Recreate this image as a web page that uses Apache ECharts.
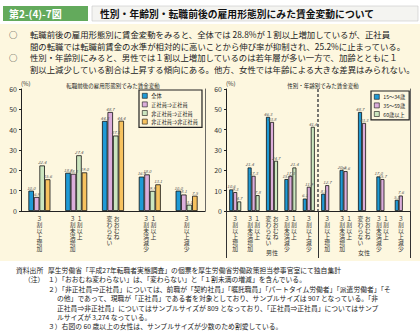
<!DOCTYPE html>
<html><head><meta charset="utf-8">
<script src="https://cdn.jsdelivr.net/npm/echarts@6/dist/echarts.min.js"></script>
<style>html,body{margin:0;padding:0;background:#fff}#c{width:420px;height:335px}</style>
</head><body><div id="c"></div>
<script>
// ---- data ----
const leftCategories = ['3割以上増加','1割以上|3割未満増加','おおむね|変わらない','1割以上|3割未満減少','3割以上減少'];
const leftSeriesNames = ['全体','正社員⇒正社員','非正社員⇒正社員','非正社員⇒非正社員'];
const valAll      = [10.0, 18.8, 44.3, 16.9, 10.0];
const valRegToReg = [6.9, 18.3, 48.7, 18.0, 8.1];
const valNonToReg = [22.4, 27.4, 37.1, 9.9, 3.1];
const valNonToNon = [15.6, 19.0, 44.4, 13.1, 7.5];

const rightGroups = ['男性','女性'];
const rightCategories = ['3割以上増加','1割以上|3割未満増加','おおむね|変わらない','1割以上|3割未満減少','3割以上減少',
                         '3割以上増加','1割以上|3割未満増加','おおむね|変わらない','1割以上|3割未満減少','3割以上減少'];
const rightSeriesNames = ['15～34歳','35～59歳','60歳以上'];
const valAge15to34 = [10.6, 21.4, 46.3, 15.7, 6.1, 8.5, 20.2, 48.7, 17.0, 5.5];
const valAge35to59 = [9.3, 17.3, 43.8, 17.3, 11.9, 12.7, 19.6, 43.3, 15.7, 7.6];
const valAge60plus = [4.7, 7.8, 24.7, 21.4, 41.4, null, null, null, null, null];

const yMin = 0, yMax = 60, yStep = 10;

const headerNo = '第2-(4)-7図';
const headerTitle = '性別・年齢別・転職前後の雇用形態別にみた賃金変動について';
const summaryLines = [
  ['○', '転職前後の雇用形態別に賃金変動をみると、全体では 28.8%が１割以上増加しているが、正社員'],
  ['',  '間の転職では転職前賃金の水準が相対的に高いことから伸び率が抑制され、25.2%に止まっている。'],
  ['○', '性別・年齢別にみると、男性では１割以上増加しているのは若年層が多い一方で、加齢とともに１'],
  ['',  '割以上減少している割合は上昇する傾向にある。他方、女性では年齢による大きな差異はみられない。']
];
const leftTitle = '転職前後の雇用形態別でみた賃金変動';
const rightTitle = '性別・年齢別でみた賃金変動';
const notes = [
  ['資料出所', '厚生労働省「平成27年転職者実態調査」の個票を厚生労働省労働政策担当参事官室にて独自集計', 0],
  ['（注）', '１）「おおむね変わらない」は、「変わらない」と「１割未満の増減」を含んでいる。', 0],
  ['', '２）「非正社員⇒正社員」については、前職が「契約社員」「嘱託職員」「パートタイム労働者」「派遣労働者」「そ', 0],
  ['', 'の他」であって、現職が「正社員」である者を対象としており、サンプルサイズは 907 となっている。「非', 1],
  ['', '正社員⇒非正社員」についてはサンプルサイズが 809 となっており、「正社員⇒正社員」についてはサンプ', 1],
  ['', 'ルサイズが 3,274 なっている。', 1],
  ['', '３）右図の 60 歳以上の女性は、サンプルサイズが少数のため割愛している。', 0]
];

// ---- styling ----
const FONT = '"Noto Sans CJK JP", "Noto Sans", sans-serif';
const colors = ['#1f9ad5', '#dcaedb', '#cbe6bf', '#f7c25f'];

function toFull(s){ return s.replace(/[0-9]/g, d => String.fromCharCode(d.charCodeAt(0) + 0xFEE0)); }
function vertical(label){
  const cols = label.split('|').map(toFull);
  if (cols.length === 1) return cols[0].split('').join('\n');
  const right = cols[0].split(''), left = cols[1].split('');
  const n = Math.max(right.length, left.length);
  const lines = [];
  for (let i = 0; i < n; i++) lines.push((left[i] || '　') + ' ' + (right[i] || '　'));
  return lines.join('\n');
}

const barLabel = {
  show: true, position: 'top', distance: 1, fontSize: 4.3, color: '#555', fontStyle: 'italic', fontFamily: FONT,
  formatter: p => (p.value == null ? '' : Number(p.value).toFixed(1))
};
const catLabel = {
  interval: 0, formatter: vertical, fontSize: 5.8, lineHeight: 6.1, color: '#333', fontFamily: FONT, margin: 4
};
function yAxisFor(idx){
  return {
    gridIndex: idx, type: 'value', min: yMin, max: yMax, interval: yStep, position: 'left',
    name: '(%)', nameLocation: 'end', nameGap: 3,
    nameTextStyle: { fontSize: 6, color: '#333', align: 'left', verticalAlign: 'bottom', fontFamily: FONT },
    axisLine: { show: true, lineStyle: { color: '#222', width: 1 } },
    axisTick: { show: true, length: 2, lineStyle: { color: '#222' } },
    axisLabel: { fontSize: 7, color: '#333', margin: 4, fontFamily: FONT },
    splitLine: { show: false }
  };
}
function frameAxisFor(idx){
  return {
    gridIndex: idx, type: 'value', min: yMin, max: yMax, interval: yStep, position: 'right',
    axisLine: { show: true, lineStyle: { color: '#444', width: 0.8 } },
    axisTick: { show: false }, axisLabel: { show: false }, splitLine: { show: false }
  };
}
function legendFor(names, left, top){
  return {
    data: names, left, top, orient: 'vertical', icon: 'rect',
    itemWidth: 5, itemHeight: 5, itemGap: 3, padding: [3, 4, 3, 3],
    borderColor: '#222', borderWidth: 1.2,
    itemStyle: { borderColor: '#111', borderWidth: 0.6 },
    textStyle: { fontSize: 5.2, color: '#222', fontFamily: FONT, padding: [0, 0, 0, -1] }
  };
}

const leftVals = [valAll, valRegToReg, valNonToReg, valNonToNon];
const rightVals = [valAge15to34, valAge35to59, valAge60plus];

const series = [];
leftSeriesNames.forEach((n, i) => series.push({
  type: 'bar', name: n, xAxisIndex: 0, yAxisIndex: 0, data: leftVals[i],
  barWidth: 5.5, barGap: '0%',
  itemStyle: { color: colors[i], borderColor: '#111', borderWidth: 0.8 },
  label: barLabel
}));
rightSeriesNames.forEach((n, i) => series.push({
  type: 'bar', name: n, xAxisIndex: 1, yAxisIndex: 1, data: rightVals[i],
  barWidth: 4, barGap: '0%',
  itemStyle: { color: colors[i], borderColor: '#111', borderWidth: 0.8 },
  label: barLabel
}));

const graphic = [
  { type: 'rect', z: -10, silent: true, shape: { x: 0, y: 24, width: 420, height: 237 }, style: { fill: '#fdf7df' } },
  { type: 'rect', shape: { x: 3, y: 6, width: 85, height: 15 }, style: { fill: '#63aa5c' } },
  { type: 'text', x: 9, y: 13.5, style: { text: headerNo, fill: '#fff', fontSize: 10, fontWeight: 'bold', fontFamily: FONT, verticalAlign: 'middle' } },
  { type: 'rect', shape: { x: 92, y: 6, width: 326, height: 15 }, style: { fill: '#f4f4f1', stroke: '#c8c8c8', lineWidth: 0.6 } },
  { type: 'text', x: 100, y: 13.5, style: { text: headerTitle, fill: '#111', fontSize: 9.8, fontWeight: 'bold', fontFamily: FONT, verticalAlign: 'middle' } }
];
summaryLines.forEach((ln, i) => {
  const y = 34 + i * 11.5;
  if (ln[0]) graphic.push({ type: 'text', x: 9, y, style: { text: ln[0], fill: '#222', fontSize: 8.4, fontFamily: FONT, verticalAlign: 'middle' } });
  graphic.push({ type: 'text', x: 30, y, style: { text: ln[1], fill: '#222', fontSize: 8.4, fontFamily: FONT, verticalAlign: 'middle' } });
});
notes.forEach((ln, i) => {
  const y = 270 + i * 9.4;
  if (ln[0]) graphic.push({ type: 'text', x: ln[0] === '（注）' ? 24 : 16, y, style: { text: ln[0], fill: '#222', fontSize: 6.8, fontFamily: FONT, verticalAlign: 'middle' } });
  graphic.push({ type: 'text', x: ln[2] ? 57 : 48, y, style: { text: ln[1], fill: '#222', fontSize: 6.8, fontFamily: FONT, verticalAlign: 'middle' } });
});

const option = {
  animation: false,
  title: [
    { text: leftTitle, left: 108, top: 78, textAlign: 'center', textStyle: { fontSize: 5.5, fontWeight: 'normal', color: '#222', fontFamily: FONT } },
    { text: rightTitle, left: 318, top: 78, textAlign: 'center', textStyle: { fontSize: 5.5, fontWeight: 'normal', color: '#222', fontFamily: FONT } }
  ],
  grid: [
    { left: 21, top: 89, width: 184, height: 122 },
    { left: 226, top: 89, width: 184, height: 122 }
  ],
  xAxis: [
    { gridIndex: 0, type: 'category', data: leftCategories, position: 'bottom',
      axisLine: { onZero: false, lineStyle: { color: '#222' } }, axisTick: { show: false }, axisLabel: catLabel },
    { gridIndex: 1, type: 'category', data: rightCategories, position: 'bottom',
      axisLine: { onZero: false, lineStyle: { color: '#222' } }, axisTick: { show: false }, axisLabel: catLabel },
    { gridIndex: 1, type: 'category', data: rightGroups, position: 'bottom',
      axisLine: { show: false, onZero: false },
      axisTick: { show: true, length: 47, lineStyle: { color: '#333', width: 1 } },
      axisLabel: { margin: 38, fontSize: 6, color: '#333', fontFamily: FONT },
      splitLine: { show: true, showMinLine: false, showMaxLine: false, lineStyle: { type: [3, 2], color: '#555', width: 1.6 } } }
  ],
  yAxis: [yAxisFor(0), yAxisFor(1), frameAxisFor(0), frameAxisFor(1)],
  legend: [legendFor(leftSeriesNames, 139, 90), legendFor(rightSeriesNames, 371, 91)],
  graphic,
  series
};

const chart = echarts.init(document.getElementById('c'), null, { renderer: 'svg', width: 420, height: 335 });
chart.setOption(option);
</script>
</body></html>
